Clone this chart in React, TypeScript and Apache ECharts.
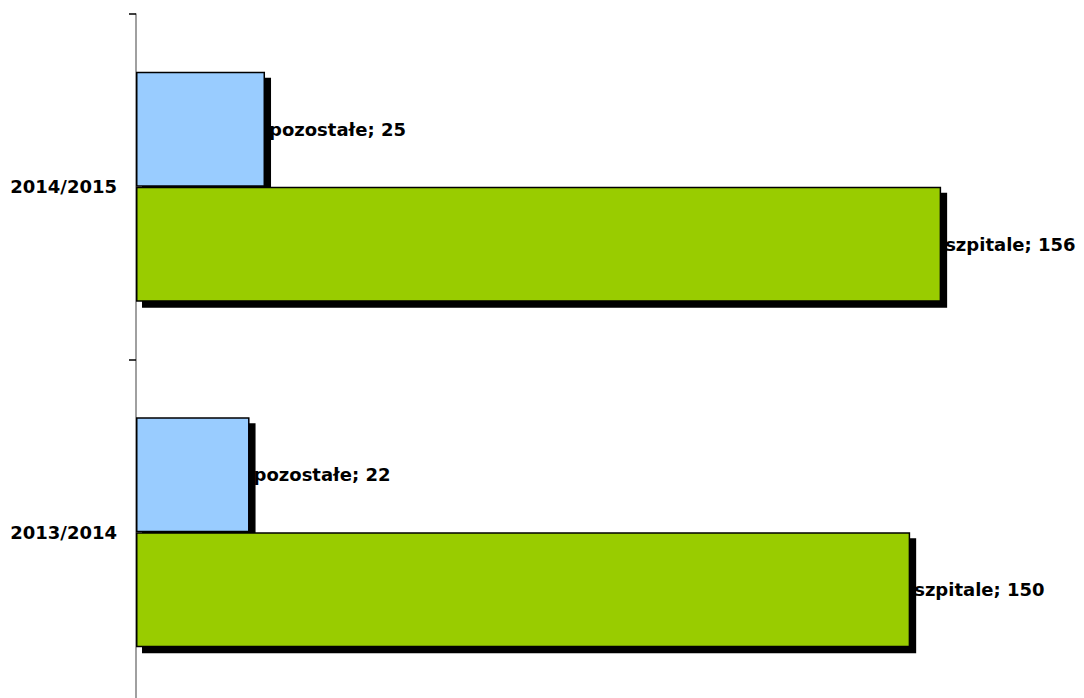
import React, { useEffect, useRef } from "react";
import * as echarts from "echarts";

const categories = ["2013/2014", "2014/2015"];
const seriesNames = ["pozostałe", "szpitale"];
const pozostaleValues = [22, 25];
const szpitaleValues = [150, 156];

export default function App() {
  const ref = useRef<HTMLDivElement>(null);
  useEffect(() => {
    document.body.style.margin = "0";
    document.body.style.overflow = "hidden";
    document.documentElement.style.overflow = "hidden";
    const chart = echarts.init(ref.current!, null, { renderer: "svg" });
    const font = "'DejaVu Sans', sans-serif";
    const barStyle = (color: string) => ({
      color,
      borderColor: "#000",
      borderWidth: 1.5,
      shadowColor: "#000",
      shadowBlur: 0,
      shadowOffsetX: 6,
      shadowOffsetY: 6,
    });
    const label = {
      show: true,
      position: "right",
      distance: 4,
      formatter: "{a}; {c}",
      color: "#000",
      fontFamily: font,
      fontWeight: "bold",
      fontSize: 18,
    };
    chart.setOption({
      animation: false,
      backgroundColor: "#fff",
      grid: { left: 136, top: 14, bottom: 0, right: 19, containLabel: false },
      xAxis: {
        type: "value",
        min: 0,
        max: 180,
        show: false,
        splitLine: { show: false },
      },
      yAxis: {
        type: "category",
        data: categories,
        axisLine: { show: true, lineStyle: { color: "#808080", width: 1.5 } },
        axisTick: { show: true, length: 7, lineStyle: { color: "#000", width: 1.5 } },
        axisLabel: {
          color: "#000",
          fontFamily: font,
          fontWeight: "bold",
          fontSize: 18,
          margin: 19,
        },
      },
      series: [
        {
          name: seriesNames[0],
          type: "bar",
          data: pozostaleValues,
          barGap: "0%",
          barCategoryGap: "33.5%",
          itemStyle: barStyle("#99CCFF"),
          label,
        },
        {
          name: seriesNames[1],
          type: "bar",
          data: szpitaleValues,
          barGap: "0%",
          barCategoryGap: "33.5%",
          itemStyle: barStyle("#99CC00"),
          label,
        },
      ],
    });
    return () => chart.dispose();
  }, []);
  return <div ref={ref} style={{ width: 1084, height: 705 }} />;
}
